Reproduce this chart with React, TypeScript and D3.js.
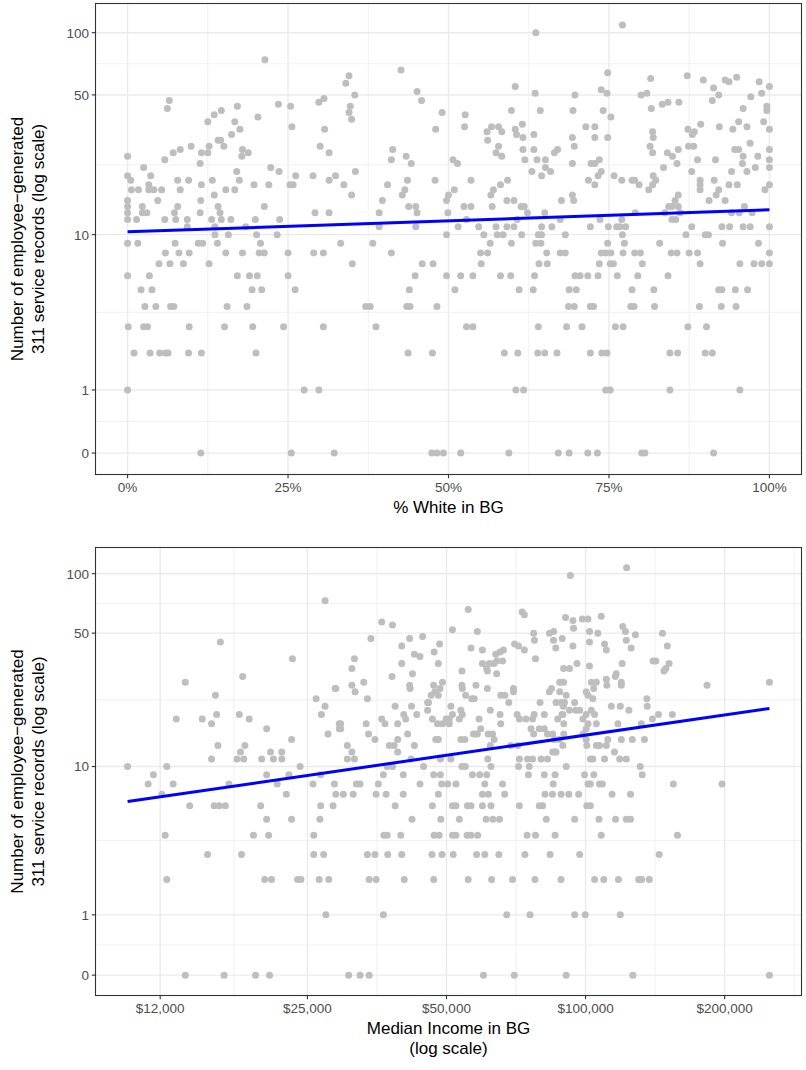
import React from "react";
import * as d3 from "d3";

// ---------- DATA ----------
// Panel 1: [% white in block group, number of employee-generated 311 records]
const whiteVsRecords: [number, number][] = [
  [21.4,74],[6.5,47],[6.2,43],[17.1,44],[14.6,42],[13.5,40],[12.5,37],[16.7,37],[20.3,39],[23.5,45],[25.4,44],[25.6,35],[29.8,46],[30.6,48],[30.7,34],[17.5,34],[16.2,32],[14.1,30],[14.5,30],[15,28],[12.7,28],[9.9,28],[8.2,27],[7.1,26],[5.8,24],[11.5,26],[11.3,23],[12.5,26],[17.9,27],[17.8,25],[18.8,26],[30,28],[31.4,26],[0,25],[0,20],[0.5,19],[2.5,22],[3.6,20],[0.6,17],[1.7,17],[3.3,18],[3.3,17],[4.1,17],[5.3,17],[0,15],[0,14],[0,13],[0,12],[1.4,12],[2.3,14],[2.3,13],[3,13],[4.7,15],[7.8,19],[9.5,19],[8.2,17],[7.8,14],[7.3,13],[7.5,12],[5.8,12],[9.3,12],[9.3,11],[11.3,13],[11.4,15],[11.5,18],[13.2,19],[13.5,16],[14.1,14],[14.4,13],[13.1,12],[14.6,12],[13.6,11],[13.6,10],[15.7,10],[16.1,12],[15.3,17],[16.7,17],[17,21],[17.4,19],[19.7,18],[22,18],[22.3,22],[23.6,21],[26.2,20],[25.3,18],[25.8,18],[21.3,14],[19.9,12],[18.4,11],[20.1,10],[23.3,10],[23.7,12],[28.9,20],[29.2,13],[31.4,13],[31.4,19],[32.4,20],
  [0,9],[1.6,9],[7.4,9],[11,9],[11.7,9],[14,9],[20.7,9],
  [5.9,8],[8,8],[9.6,8],[15.3,8],[17.9,8],[20.5,8],[21.3,8],[25,8],[29,8],[30.5,8],
  [4.9,7],[6.6,7],[8.7,7],[12.7,7],
  [0,6],[3.4,6],[17.1,6],[19,6],[20.2,6],[25,6],
  [2.1,5],[3.8,5],[19.4,5],[20.9,5],[26.1,5],
  [2.7,4],[4.4,4],[6.7,4],[7.2,4],[15.5,4],[18.6,4],
  [0.1,3],[2.5,3],[3.1,3],[9.6,3],[15.1,3],[19.5,3],[24.3,3],[30.5,3],
  [1,2],[3.5,2],[5,2],[5.9,2],[6.3,2],[9.5,2],[11.5,2],[20,2],
  [0,1],[27.5,1],[29.8,1],
  [11.4,0],[25.5,0],[32.2,0],
  [63.6,100],[42.6,66],[34.5,62],[34,57],[35.4,50],[34.7,44],[34.5,41],[34.9,38],[45.1,52],[45.8,47],[60.4,55],[63.5,51],[49,41],[52.6,40],[48,34],[52.5,35],[59.8,42],[64.3,42],[56.7,35],[57.8,35],[56,33],[58.3,33],[60.4,34],[61.5,36],[60.6,32],[61.6,31],[56.1,30],[63.3,32],[57.8,28],[57.4,26],[58.3,25],[61.6,27],[61.9,24],[63.3,27],[63.8,24],[41.3,27],[41.1,24],[43.4,25],[44.2,23],[50.7,24],[51.4,23],[35.5,21],[33.7,18],[34.9,16],[40.5,18],[43.6,19],[43.2,17],[42.8,16],[39.7,15],[39.2,13],[43.8,14],[44.9,14],[45.1,13],[44.9,11],[39.2,11],[47.9,19],[50.9,17],[50,16],[49.7,15],[49.9,13],[53.5,19],[52.4,14],[53.5,14],[52.8,12],[51.5,11],[49.7,10],[54.7,11],[55.5,10],[59.2,19],[58.1,18],[57,17],[56.6,16],[56.8,14],[59.1,15],[60.2,15],[61.3,14],[61.8,14],[62.3,13],[60.7,12],[57.4,11],[59.1,11],[60.2,11],[57.6,10],[58.5,10],[61.4,10],[63,21],[64.5,20],[65.1,24],[65.1,22],[65.9,21],[66.5,26],[67,27],[67.6,15],[65,13],[64.5,11],[66.1,11],[64,10],[64.5,10],[67.4,12],
  [33.2,9],[38.2,9],[56.5,9],[59.8,9],[63.6,9],[64.4,9],
  [41.1,8],[55,8],[56.1,8],[65.3,8],[67.4,8],
  [35,7],[45.9,7],[47.6,7],[55.1,7],[64.1,7],[65.4,7],
  [44.8,6],[49.7,6],[51.9,6],[53.8,6],[58.1,6],[59.7,6],[63.4,6],
  [43.9,5],[51,5],[61,5],[63.2,5],
  [37.1,4],[37.8,4],[43.5,4],[44,4],[48.2,4],
  [38.7,3],[52.8,3],[53.8,3],[64,3],
  [43.7,2],[47.5,2],[58.7,2],[60.8,2],[63.9,2],[65,2],[66.9,2],
  [60.5,1],[61.7,1],
  [47.4,0],[48.2,0],[49.2,0],[51.9,0],[59.4,0],[67.1,0],
  [77.1,109],[74.8,64],[81.5,60],[87.2,62],[89.7,59],[93.1,59],[93.7,58],[94.9,61],[98.4,58],[100,55],[91.3,54],[92.1,50],[91.1,47],[73.8,53],[74.7,51],[69.7,50],[69.4,42],[74.1,42],[75.3,39],[80,50],[80.9,51],[81.6,43],[83.3,45],[84.2,46],[85.9,46],[97.1,49],[98.8,51],[99.6,44],[99.6,42],[95.9,43],[71.4,35],[72.8,35],[69.3,31],[69.6,28],[72.8,31],[74.8,31],[81.8,33],[81.9,31],[81.4,28],[81.8,26],[87.3,34],[88,32],[88.3,33],[87.4,28],[88.2,28],[89.3,36],[92.2,35],[94.3,34],[95.2,37],[96.5,35],[99.1,37],[100,34],[97,29],[94.6,27],[95.2,27],[95.9,25],[95.8,23],[98.2,25],[96.5,21],[97.8,22],[100,27],[100,24],[100,22],[100,18],[99.3,17],[85.8,27],[84.1,26],[84.9,25],[85.6,23],[88.8,24],[91.6,24],[87.9,21],[83.5,22],[94.1,21],[89.2,19],[89.2,18],[89.2,17],[91.4,19],[93.7,18],[95,18],[92.1,17],[91.7,16],[90.6,15],[93.1,15],[96.1,14],[69.3,23],[73.5,24],[72.8,23],[72.2,23],[73.8,21],[73.3,20],[72.8,18],[71.8,19],[75.8,20],[77,19],[78.6,19],[79,19],[79.7,18],[81.9,20],[82.3,19],[81.8,18],[81.2,17],[69.3,16],[69.5,15],[85.8,16],[85.3,15],[84.8,14],[85.8,14],[86.1,13],[83.7,13],[84.3,14],[84.8,12],[85.4,12],[79.1,13],[73.6,12],[77,12],[76.7,11],[77.6,11],[77.1,10],[76.2,11],[74.9,11],[72.1,11],[87,10],[87.9,11],[90,10],[90.5,10],[92.6,11],[93.8,11],[94.1,13],[95.3,13],[97.3,13],[95.9,11],[97,11],[100,11],[68.2,10],
  [74.8,9],[77.4,9],[82.9,9],[92.7,9],[98.3,9],
  [68.2,8],[73.8,8],[74.5,8],[75.3,8],[77.2,8],[79,8],[79.9,8],[84.7,8],[85.6,8],[87.5,8],[88.8,8],[100,8],
  [73.5,7],[75.2,7],[75.7,7],[80.2,7],[89.2,7],[95.4,7],[97.6,7],[98.8,7],[100,7],
  [69.7,6],[70.5,6],[71.7,6],[73.3,6],[76.3,6],[79.5,6],[84.2,6],
  [68.8,5],[69.9,5],[78.6,5],[82,5],[92.1,5],[92.6,5],[94.7,5],[96.6,5],
  [68.7,4],[69.6,4],[72.1,4],[72.6,4],[78.4,4],[78.9,4],[82.1,4],[89.1,4],[92.5,4],[94.8,4],
  [68.4,3],[70.8,3],[76,3],[77.2,3],[87.3,3],[90.2,3],
  [72.1,2],[73.9,2],[74.7,2],[84.5,2],[85.7,2],[90,2],[91.1,2],
  [74.5,1],[75.2,1],[84.5,1],[95.4,1],
  [68.8,0],[71.7,0],[73.2,0],[80.1,0],[80.6,0],[91.3,0],
];

// Panel 2: [median household income in block group ($), number of records]
const incomeVsRecords: [number, number][] = [
  [27300,73],[16200,45],[23200,37],[13600,28],[18100,30],[15800,24],[28700,26],[26100,23],[27300,21],[26800,19],[27700,15],[29300,17],[29300,16],[13000,18],[14800,18],[15500,17],[15900,19],[17800,19],[18700,18],[20400,16],[23100,14],[16000,13],[15500,11],[18300,13],[17900,12],[17600,11],[18200,11],[19900,11],[20800,12],[21100,11],[22000,12],[22000,11],[24100,10],[10200,10],[12400,10],[11600,9],[20400,9],[22800,9],
  [11300,8],[12800,8],[12100,7],[13900,6],[15700,6],[16100,6],[16600,6],[16900,8],[21500,8],[22500,7],[19800,6],[20400,5],[23100,5],[12300,4],[19100,4],[20600,4],[15200,3],[18000,3],[12400,2],[20200,2],[20900,2],[23800,2],[24200,2],[25700,8],[26700,9],[28600,8],[28800,7],[28400,6],[26700,6],[26600,5],[25800,4],[25800,3],[27100,3],[26500,2],[27800,2],[27400,1],[13600,0],[16500,0],[19300,0],[20700,0],
  [55700,66],[72900,64],[73700,62],[36200,57],[38200,55],[51500,52],[58300,51],[34300,47],[41600,47],[44400,48],[40000,43],[47000,40],[48300,44],[42600,39],[43800,38],[56500,42],[59800,41],[63900,39],[66400,41],[70200,44],[71600,43],[73700,41],[77200,50],[77500,46],[83500,50],[85300,51],[85200,46],[86200,42],[77900,37],[31200,33],[31600,37],[40000,35],[42200,31],[38100,30],[48000,35],[54000,32],[59800,35],[61100,33],[61900,35],[63400,35],[64200,36],[66100,36],[65300,40],[61300,32],[64200,31],[28800,26],[31200,27],[31700,25],[33100,28],[33700,23],[41600,27],[41700,26],[46900,27],[46300,24],[47200,25],[48400,26],[49000,28],[48000,24],[45700,22],[54000,27],[54100,26],[55000,24],[56700,23],[57400,23],[57900,27],[61300,26],[65500,24],[66900,24],[68200,22],[69800,26],[69800,25],[71100,19],[71900,18],[74300,18],[76800,18],[77400,19],[79700,22],[81400,19],[84400,26],[83500,25],[86300,22],[87900,28],[88500,22],[89500,21],[88900,19],[87000,18],[89700,17],[30500,13],[31200,12],[30500,11],[31600,11],[29500,17],[29500,16],[33500,17],[33900,15],[35000,14],[36200,18],[36800,17],[38700,21],[39200,17],[37600,13],[38500,13],[39200,14],[39200,12],[41200,15],[42600,13],[41900,11],[40400,19],[40800,18],[42000,21],[43100,19],[45500,20],[45500,22],[46600,18],[47800,17],[49000,17],[50700,17],[49900,18],[51100,21],[51500,19],[53700,20],[54100,19],[53300,18],[50700,18],[58800,18],[59300,16],[58300,15],[57900,15],[57200,15],[62200,20],[65300,19],[65500,17],[61500,15],[62900,15],[63400,14],[62200,13],[79400,16],[81400,16],[82700,15],[84900,15],[85600,14],[87700,14],[89700,15],[85900,12],[76200,16],[77200,15],[68900,13],[71300,13],[71900,11],[74900,11],[76800,11],[71600,10],[75500,10],[80100,11],[82700,11],[84900,12],[86300,12],[47400,14],[48000,14],[53700,14],[54800,14],[48500,11],[51100,11],[61400,11],[54000,10],[54900,10],[62400,10],
  [37200,10],[38200,10],[44600,10],
  [36500,9],[40300,9],[46900,9],[48500,9],[56900,9],[59000,9],[61100,9],[75200,9],[81400,9],[85900,9],
  [31900,8],[32500,8],[35600,8],[43800,8],[48800,8],[50300,8],[52400,8],[60500,8],[66100,8],[85100,8],
  [29900,7],[31400,7],[35200,7],[37000,7],[40300,7],[48000,7],[59800,7],[61600,7],[66800,7],[81700,7],[84800,7],[88500,7],
  [38700,6],[46600,6],[51500,6],[52400,6],[55500,6],[56500,6],[59800,6],[62400,6],[71900,6],[79400,6],[80700,6],
  [42100,5],[48600,5],[53300,5],[60900,5],[63000,5],[65100,5],[82200,5],
  [36600,4],[37200,4],[39800,4],[47000,4],[48200,4],[51500,4],[52400,4],[55400,4],[56500,4],[58400,4],[74700,4],[77900,4],[85900,4],
  [33700,3],[35000,3],[37300,3],[40000,3],[46500,3],[48900,3],[51700,3],[58100,3],[60500,3],[64900,3],[73900,3],[83800,3],
  [34000,2],[35200,2],[40500,2],[46900,2],[55700,2],[62600,2],[69500,2],[77700,2],[88500,2],
  [36500,1],[67500,1],[75800,1],
  [30700,0],[32500,0],[34000,0],[60100,0],[70100,0],
  [122700,107],[92700,98],[90500,60],[93900,58],[94200,53],[98400,59],[101200,59],[108100,61],[89000,47],[93900,43],[102000,51],[102000,45],[106300,50],[109900,44],[110900,41],[120400,54],[122000,51],[128200,49],[122500,46],[125500,42],[146700,50],[150300,43],[141900,36],[140000,36],[151600,35],[149100,33],[147800,32],[89600,33],[92300,33],[95800,35],[102000,34],[89600,28],[105500,28],[110900,29],[111200,27],[119500,28],[119500,27],[120000,35],[116500,31],[116000,30],[87900,25],[90800,24],[90000,22],[94700,22],[95200,20],[97100,20],[92300,20],[89300,19],[101200,24],[103700,23],[100300,25],[102900,28],[104100,26],[98700,18],[100300,19],[102900,20],[104600,19],[105500,17],[101200,17],[100300,16],[98700,15],[100300,14],[100600,13],[105500,13],[107200,13],[110900,13],[111700,14],[109900,11],[103700,11],[102400,11],[113700,21],[118900,21],[124100,20],[117500,17],[115500,12],[118500,11],[122500,11],[119500,14],[126200,14],[134100,14],[132000,17],[135700,23],[136000,21],[139500,18],[143800,19],[154100,19],[131300,10],[183200,27],[250001,28],[89300,13],[90800,10],
  [99500,9],[104200,9],[132600,9],
  [101200,8],[102400,8],[107200,8],[108700,8],[154900,8],[197400,8],
  [92000,7],[96600,7],[114100,7],[125100,7],
  [100600,6],[102400,6],
  [94700,5],[106900,5],[116100,5],[122500,5],[125100,5],
  [108100,4],[158100,4],
  [97100,3],[144300,3],
  [104600,2],[109500,2],[117800,2],[130300,2],[132300,2],[137400,2],
  [94700,1],[99800,1],[118900,1],
  [90800,0],[126600,0],[250001,0],
];

// fitted linear trend (lm on log scale), endpoints
const whiteFit: [number, number][] = [[0, 10.35], [100, 13.45]];
const incomeFit: [number, number][] = [[10200, 6.36], [250001, 20.45]];

const recordTicks = [0, 1, 10, 50, 100];
const whiteTicks = [0, 25, 50, 75, 100];
const incomeTicks = [12000, 25000, 50000, 100000, 200000];

// ---------- LAYOUT ----------
const W = 806;
const H = 1070;
const LEFT = 95.5;
const RIGHT = 801.5;
const FONT = "'Liberation Sans', Arial, Helvetica, sans-serif";
const TICK_FS = 13.5;
const TITLE_FS = 17;

const yTf = (v: number) => Math.log10(v + 1);

function expand(d: [number, number], m = 0.05): [number, number] {
  const s = (d[1] - d[0]) * m;
  return [d[0] - s, d[1] + s];
}

function minorBreaks(major: number[], dom: [number, number]): number[] {
  const out: number[] = [];
  for (let i = 0; i < major.length - 1; i++) out.push((major[i] + major[i + 1]) / 2);
  const n = major.length;
  const first = major[0] - (major[1] - major[0]) / 2;
  const last = major[n - 1] + (major[n - 1] - major[n - 2]) / 2;
  if (first >= dom[0]) out.unshift(first);
  if (last <= dom[1]) out.push(last);
  return out;
}

type PanelProps = {
  points: [number, number][];
  fit: [number, number][];
  xTf: (v: number) => number;
  xTicks: number[];
  xFmt: (v: number) => string;
  top: number;
  bottom: number;
  xTitle: string[];
};

function Panel({ points, fit, xTf, xTicks, xFmt, top, bottom, xTitle }: PanelProps) {
  const xDom = expand(d3.extent(points, (p) => xTf(p[0])) as [number, number]);
  const yDom = expand(d3.extent(points, (p) => yTf(p[1])) as [number, number]);
  const xs = d3.scaleLinear().domain(xDom).range([LEFT, RIGHT]);
  const ys = d3.scaleLinear().domain(yDom).range([bottom, top]);

  const xMajT = xTicks.map(xTf);
  const yMajT = recordTicks.map(yTf);
  const xMinT = minorBreaks(xMajT, xDom);
  const yMinT = minorBreaks(yMajT, yDom);

  const grid = "#EBEBEB";
  const line = d3.line<[number, number]>()
    .x((d) => xs(xTf(d[0])))
    .y((d) => ys(yTf(d[1])));

  const midY = (top + bottom) / 2;
  const tickCol = "#333333";
  const lblCol = "#4D4D4D";
  const lblBase = bottom + 3.7 + 3 + TICK_FS * 0.78;
  const titleBase = lblBase + 5 + TITLE_FS * 0.95;

  return (
    <g>
      <rect x={LEFT} y={top} width={RIGHT - LEFT} height={bottom - top} fill="#fff" />
      {xMinT.map((t, i) => (
        <line key={"xm" + i} x1={xs(t)} x2={xs(t)} y1={top} y2={bottom} stroke={grid} strokeWidth={0.7} />
      ))}
      {yMinT.map((t, i) => (
        <line key={"ym" + i} x1={LEFT} x2={RIGHT} y1={ys(t)} y2={ys(t)} stroke={grid} strokeWidth={0.7} />
      ))}
      {xMajT.map((t, i) => (
        <line key={"xM" + i} x1={xs(t)} x2={xs(t)} y1={top} y2={bottom} stroke={grid} strokeWidth={1.4} />
      ))}
      {yMajT.map((t, i) => (
        <line key={"yM" + i} x1={LEFT} x2={RIGHT} y1={ys(t)} y2={ys(t)} stroke={grid} strokeWidth={1.4} />
      ))}
      {points.map((p, i) => (
        <circle key={"p" + i} cx={xs(xTf(p[0]))} cy={ys(yTf(p[1]))} r={3.5} fill="#BEBEBE" />
      ))}
      <path d={line(fit) || ""} fill="none" stroke="#0000FF" strokeWidth={3} />
      <rect x={LEFT} y={top} width={RIGHT - LEFT} height={bottom - top} fill="none" stroke="#333333" strokeWidth={1.1} />
      {recordTicks.map((v, i) => (
        <g key={"yt" + i}>
          <line x1={LEFT - 3.7} x2={LEFT} y1={ys(yTf(v))} y2={ys(yTf(v))} stroke={tickCol} strokeWidth={1.1} />
          <text x={LEFT - 6.5} y={ys(yTf(v))} dy="0.36em" textAnchor="end" fontSize={TICK_FS} fill={lblCol}>
            {v}
          </text>
        </g>
      ))}
      {xTicks.map((v, i) => (
        <g key={"xt" + i}>
          <line x1={xs(xTf(v))} x2={xs(xTf(v))} y1={bottom} y2={bottom + 3.7} stroke={tickCol} strokeWidth={1.1} />
          <text x={xs(xTf(v))} y={lblBase} textAnchor="middle" fontSize={TICK_FS} fill={lblCol}>
            {xFmt(v)}
          </text>
        </g>
      ))}
      {xTitle.map((s, i) => (
        <text key={"xtt" + i} x={(LEFT + RIGHT) / 2} y={titleBase + i * 20.5} textAnchor="middle" fontSize={TITLE_FS} fill="#000">
          {s}
        </text>
      ))}
      <text transform={`translate(23,${midY}) rotate(-90)`} textAnchor="middle" fontSize={TITLE_FS} fill="#000">
        Number of employee−generated
      </text>
      <text transform={`translate(43.5,${midY}) rotate(-90)`} textAnchor="middle" fontSize={TITLE_FS} fill="#000">
        311 service records (log scale)
      </text>
    </g>
  );
}

const pctFmt = (v: number) => d3.format(".0%")(v / 100);
const dollarFmt = (v: number) => "$" + d3.format(",")(v);

export default function App() {
  return (
    <div style={{ position: "absolute", left: 0, top: 0, width: W, height: H, background: "#fff" }}>
      <svg width={W} height={H} style={{ display: "block" }} fontFamily={FONT}>
        <rect width={W} height={H} fill="#fff" />
        <Panel
          points={whiteVsRecords}
          fit={whiteFit}
          xTf={(v) => v}
          xTicks={whiteTicks}
          xFmt={pctFmt}
          top={3.5}
          bottom={474.5}
          xTitle={["% White in BG"]}
        />
        <Panel
          points={incomeVsRecords}
          fit={incomeFit}
          xTf={(v) => Math.log10(v)}
          xTicks={incomeTicks}
          xFmt={dollarFmt}
          top={547.5}
          bottom={995.5}
          xTitle={["Median Income in BG", "(log scale)"]}
        />
      </svg>
    </div>
  );
}
